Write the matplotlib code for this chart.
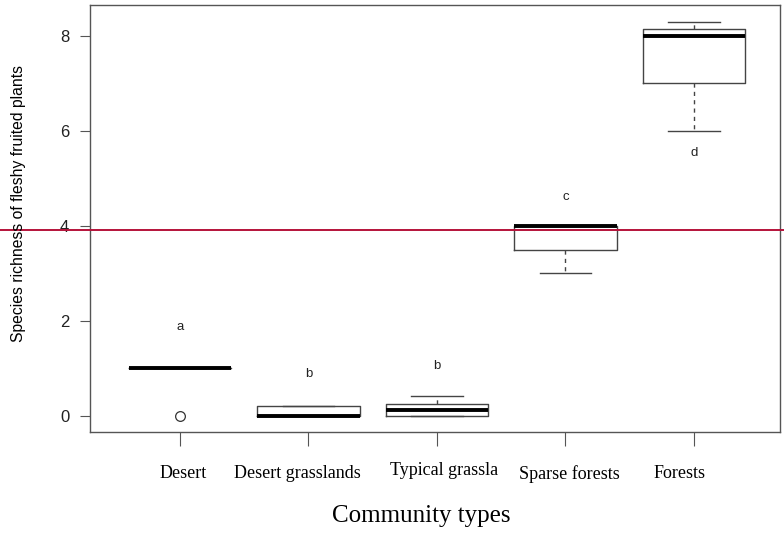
import matplotlib
matplotlib.use("Agg")
import matplotlib.pyplot as plt
from matplotlib.transforms import blended_transform_factory, ScaledTranslation

# Community types and box summaries (species richness)
communities = ["Desert", "Desert grasslands", "Typical grassla", "Sparse forests", "Forests"]
q1 = [1.0, 0.0, 0.0, 3.5, 7.0]
medians = [1.0, 0.0, 0.12, 4.0, 8.0]
q3 = [1.0, 0.2, 0.25, 4.0, 8.15]
whisker_low = [1.0, 0.0, 0.0, 3.0, 6.0]
whisker_high = [1.0, 0.2, 0.42, 4.0, 8.3]
outliers = [[0.0], [], [], [], []]

# significance letters and their heights
letters = ["a", "b", "b", "c", "d"]
letter_y = [1.87, 0.88, 1.05, 4.6, 5.53]

reference_level = 3.92

stats = []
for i in range(len(communities)):
    stats.append({"med": medians[i], "q1": q1[i], "q3": q3[i],
                  "whislo": whisker_low[i], "whishi": whisker_high[i],
                  "fliers": outliers[i]})

fig = plt.figure(figsize=(7.84, 5.35), dpi=100)
ax = fig.add_axes([0.1148, 0.1925, 0.8801, 0.7982])

frame_col = "#555555"
ax.bxp(stats, positions=range(1, 6), widths=0.8, showfliers=True,
       boxprops=dict(color="#444444", linewidth=1.0),
       medianprops=dict(color="black", linewidth=2.8, solid_capstyle="butt"),
       whiskerprops=dict(color="#444444", linewidth=1.0, linestyle=(0, (3, 3))),
       capprops=dict(color="#444444", linewidth=1.0),
       capwidths=0.4,
       flierprops=dict(marker="o", markerfacecolor="white", markeredgecolor="#333333",
                       markersize=7, markeredgewidth=0.9))

for i, (lt, ly) in enumerate(zip(letters, letter_y)):
    ax.text(i + 1, ly, lt, ha="center", va="center", fontsize=9.5,
            family="Liberation Sans", color="#222222")

# horizontal reference line across the whole figure width
trans = blended_transform_factory(fig.transFigure, ax.transData)
ax.plot([0, 1], [reference_level, reference_level], color="#b5123a",
        linewidth=1.4, transform=trans, clip_on=False, zorder=5)

ax.set_xlim(0.30, 5.67)
ax.set_ylim(-0.337, 8.65)
ax.set_yticks([0, 2, 4, 6, 8])
ax.set_xticks(range(1, 6))
ax.set_xticklabels(communities, family="Liberation Serif", fontsize=13)
ax.tick_params(axis="x", length=10, pad=14, color=frame_col)
ax.tick_params(axis="y", length=7, pad=8, color=frame_col, labelsize=12)
for lab in ax.get_yticklabels():
    lab.set_family("Liberation Sans")
    lab.set_color("#222222")

# nudge the category labels sideways a little (pixels)
label_shift = [3, -11, 7, 4, -14]
label_rise = [0, 0, 3, 0, 0]
for lab, dx, dy in zip(ax.get_xticklabels(), label_shift, label_rise):
    lab.set_transform(lab.get_transform() + ScaledTranslation(dx / 100, dy / 100, fig.dpi_scale_trans))

for sp in ax.spines.values():
    sp.set_color(frame_col)
    sp.set_linewidth(1.0)

fig.text(0.023, 0.619, "Species richness of fleshy fruited plants", rotation=90,
         ha="center", va="center", fontsize=11.3, family="Liberation Sans")
fig.text(0.537, 0.036, "Community types", ha="center", va="center",
         fontsize=18, family="Liberation Serif")

fig.savefig("out.png", dpi=100)
